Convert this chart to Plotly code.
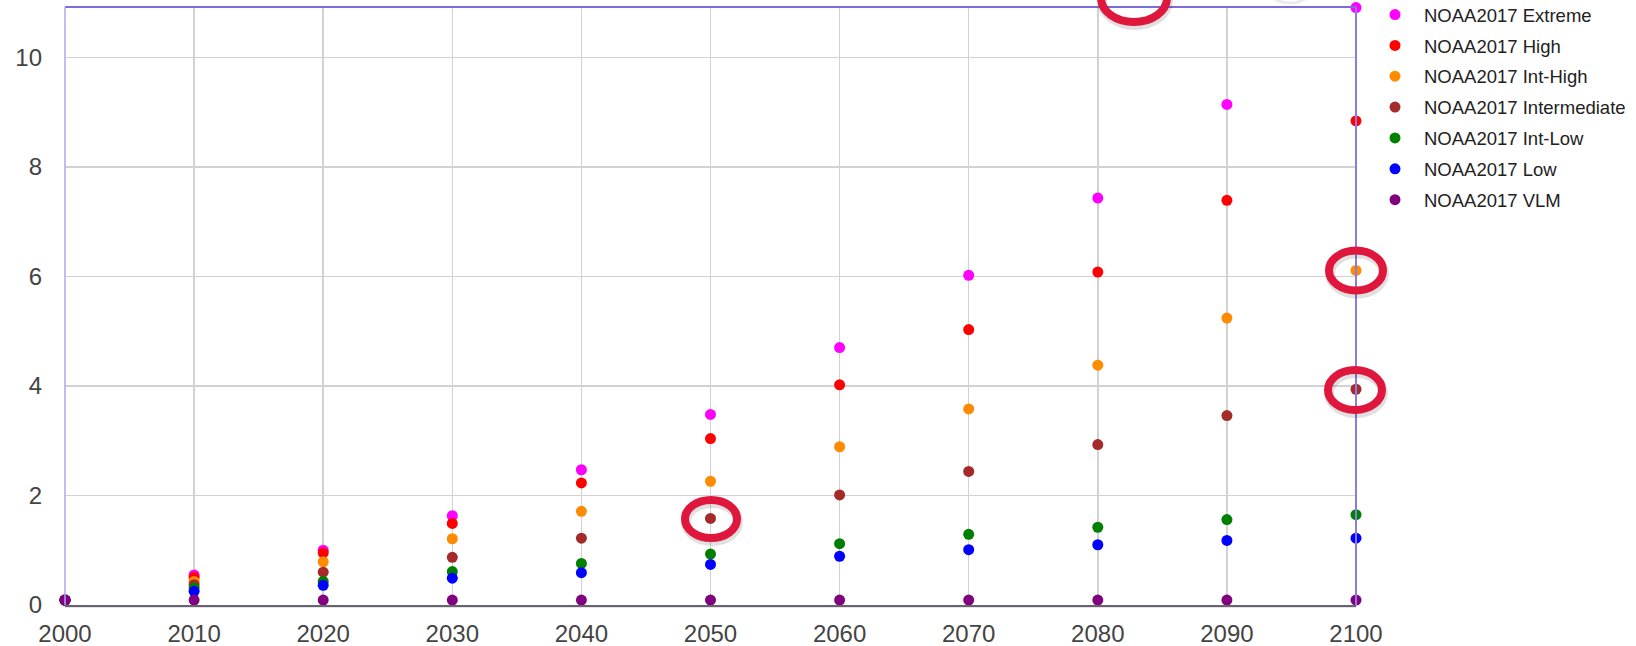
import plotly.graph_objects as go

# ---------------- data ----------------
years = [2000, 2010, 2020, 2030, 2040, 2050, 2060, 2070, 2080, 2090, 2100]
extreme = [0.09, 0.55, 1.00, 1.63, 2.47, 3.48, 4.70, 6.02, 7.43, 9.14, 10.91]
high = [0.09, 0.50, 0.95, 1.49, 2.23, 3.04, 4.02, 5.03, 6.08, 7.39, 8.84]
int_high = [0.09, 0.43, 0.79, 1.21, 1.71, 2.26, 2.89, 3.58, 4.38, 5.24, 6.11]
intermediate = [0.09, 0.37, 0.60, 0.87, 1.22, 1.58, 2.01, 2.44, 2.93, 3.46, 3.94]
int_low = [0.09, 0.31, 0.43, 0.61, 0.76, 0.93, 1.12, 1.29, 1.42, 1.56, 1.65]
low = [0.09, 0.25, 0.36, 0.49, 0.59, 0.74, 0.89, 1.01, 1.10, 1.18, 1.22]
vlm = [0.09, 0.09, 0.09, 0.09, 0.09, 0.09, 0.09, 0.09, 0.09, 0.09, 0.09]

series_names = ["NOAA2017 Extreme", "NOAA2017 High", "NOAA2017 Int-High",
                "NOAA2017 Intermediate", "NOAA2017 Int-Low", "NOAA2017 Low",
                "NOAA2017 VLM"]
series_values = [extreme, high, int_high, intermediate, int_low, low, vlm]
series_colors = ["#ff00ff", "#ff0000", "#ff8c00", "#a52a2a", "#008000",
                 "#0000ff", "#800080"]

x_ticks = [2000, 2010, 2020, 2030, 2040, 2050, 2060, 2070, 2080, 2090, 2100]
y_ticks = [0, 2, 4, 6, 8, 10]

# ---------------- figure ----------------
W, H = 1636, 646
ML, MR, MT, MB = 65, 280, 7, 41
PW, PH = W - ML - MR, H - MT - MB

fig = go.Figure()
for i, (name, vals, col) in enumerate(zip(series_names, series_values, series_colors)):
    fig.add_trace(go.Scatter(
        x=years, y=vals, mode="markers", name=name,
        legendgroup="g%d" % i,
        marker=dict(color=col, size=11, line=dict(width=0)),
        cliponaxis=False,
    ))


def px(X):
    return (X - ML) / PW


def py(Y):
    return (MT + PH - Y) / PH


shapes = []
# chart border (top/right purple, left lighter)
shapes.append(dict(type="line", xref="paper", yref="paper", x0=0, x1=1, y0=1, y1=1,
                   line=dict(color="#7b6cdc", width=2), layer="above"))
shapes.append(dict(type="line", xref="paper", yref="paper", x0=1, x1=1, y0=0, y1=1,
                   line=dict(color="#8a7ce0", width=2), layer="above"))
shapes.append(dict(type="line", xref="paper", yref="paper", x0=0, x1=0, y0=0, y1=1,
                   line=dict(color="#b0a6ec", width=1.5), layer="above"))
shapes.append(dict(type="line", xref="paper", yref="paper", x0=0, x1=1, y0=py(607), y1=py(607),
                   line=dict(color="#c8c0f0", width=1), layer="below"))

# highlight ellipses (screenshot annotations)
LW = 8
ellipses = [(711, 519, 60, 46), (1356, 270.5, 62, 48), (1355, 390, 62, 48), (1134, -2, 74, 56)]
# faint shadow ellipse at top right
shapes.append(dict(type="circle", xref="paper", yref="paper",
                   x0=px(1262), x1=px(1318), y0=py(3), y1=py(-50),
                   line=dict(color="rgba(0,0,0,0.08)", width=3), layer="above"))
for (cx, cy, w, h) in ellipses:
    bw, bh = w - LW, h - LW
    shapes.append(dict(type="circle", xref="paper", yref="paper",
                       x0=px(cx - bw / 2 + 1), x1=px(cx + bw / 2 + 1),
                       y0=py(cy + bh / 2 + 3), y1=py(cy - bh / 2 + 3),
                       line=dict(color="rgba(0,0,0,0.12)", width=LW + 2), layer="above"))
    shapes.append(dict(type="circle", xref="paper", yref="paper",
                       x0=px(cx - bw / 2), x1=px(cx + bw / 2),
                       y0=py(cy + bh / 2), y1=py(cy - bh / 2),
                       line=dict(color="#e0173d", width=LW), layer="above"))

FONT = "Liberation Sans, Arial, sans-serif"

fig.update_layout(
    width=W, height=H,
    margin=dict(l=ML, r=MR, t=MT, b=MB, pad=0, autoexpand=False),
    paper_bgcolor="white", plot_bgcolor="white",
    font=dict(family=FONT, color="#444"),
    showlegend=True,
    legend=dict(
        x=px(1366), xanchor="left", y=py(-4), yanchor="top",
        font=dict(family=FONT, size=18.5, color="#222"),
        itemwidth=48, tracegroupgap=3.8, borderwidth=0,
        bgcolor="rgba(0,0,0,0)",
    ),
    xaxis=dict(
        range=[2000, 2100], tickmode="array", tickvals=x_ticks,
        ticktext=[str(v) for v in x_ticks], automargin=False,
        showgrid=True, gridcolor="#d2d2d2", gridwidth=1.5,
        zeroline=False, showline=True, linecolor="#666", linewidth=2,
        ticks="", ticklabelstandoff=6,
        tickfont=dict(family=FONT, size=24, color="#444"),
    ),
    yaxis=dict(
        range=[0, 10.92], tickmode="array", tickvals=y_ticks, automargin=False,
        showgrid=True, gridcolor="#d2d2d2", gridwidth=1.5,
        zeroline=False, showline=False,
        ticks="", ticklabelstandoff=22,
        tickfont=dict(family=FONT, size=24, color="#444"),
    ),
    shapes=shapes,
)

fig.write_html(
    "out.html",
    config={"displayModeBar": False, "staticPlot": True},
    post_script="document.body.style.margin='0px';document.body.style.overflow='hidden';",
)
